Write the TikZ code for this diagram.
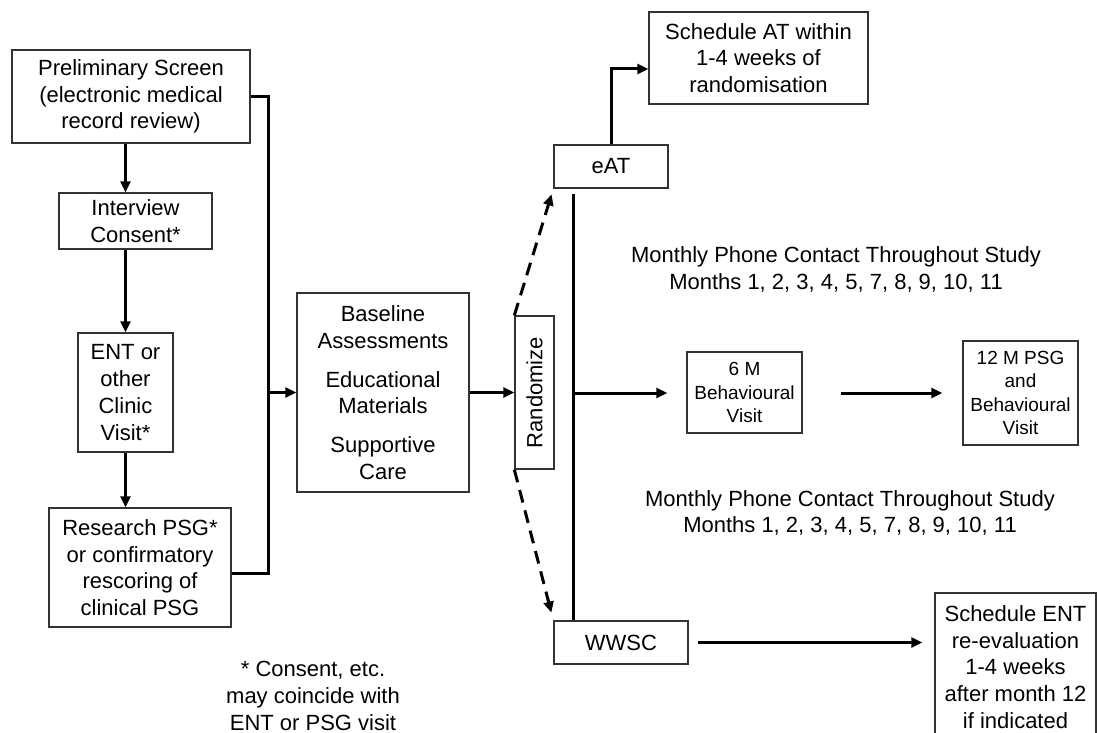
\documentclass[tikz,border=0pt]{standalone}
\usepackage{fontspec}
\usepackage{graphicx}
\setmainfont{Liberation Sans}
\usetikzlibrary{arrows.meta}
\definecolor{boxgray}{HTML}{333333}
\newcommand{\fmain}{\fontsize{22}{26.7}\selectfont}
\newcommand{\fsmall}{\fontsize{19}{23.3}\selectfont}
\begin{document}
\begin{tikzpicture}[x=1pt,y=-1pt,
  blk/.style={draw=boxgray, line width=1.3pt, inner sep=0pt, align=center, font=\fmain},
  conn/.style={line width=3pt},
  arr/.style={conn, -{Triangle[length=11pt,width=10pt]}},
  darr/.style={arr, dash pattern=on 13pt off 8pt},
  txt/.style={align=center, font=\fmain, inner sep=0pt}]
\fill[white] (0,0) rectangle (1097,733);
\useasboundingbox (0,0) rectangle (1097,733);
\clip (0,0) rectangle (1097,733);

% left column
\node[blk, minimum width=238pt, minimum height=93pt] (prelim) at (131,96.5)
  {Preliminary Screen\\(electronic medical\\record review)};
\node[blk, minimum width=153pt, minimum height=56pt] (interview) at (135.5,221)
  {Interview\\Consent*};
\node[blk, minimum width=95pt, minimum height=119pt] (ent) at (125.5,392.5)
  {ENT or\\other\\Clinic\\Visit*};
\node[blk, minimum width=182pt, minimum height=119pt] (research) at (140,567.5)
  {Research PSG*\\or confirmatory\\rescoring of\\clinical PSG};
\node[txt] (foot) at (313,696)
  {* Consent, etc.\\may coincide with\\ENT or PSG visit};

% middle
\node[blk, minimum width=172pt, minimum height=199pt] (baseline) at (383,392.5)
  {Baseline\\Assessments\\[12pt]Educational\\Materials\\[12pt]Supportive\\Care};
\node[blk, minimum width=39pt, minimum height=153pt] (random) at (534.5,392.5)
  {\rotatebox{90}{Randomize}};

% arms
\node[blk, minimum width=114pt, minimum height=43pt] (eat) at (611,166.5) {eAT};
\node[blk, minimum width=219pt, minimum height=92pt] (schedat) at (758.5,58)
  {Schedule AT within\\1-4 weeks of\\randomisation};
\node[blk, minimum width=134pt, minimum height=43pt] (wwsc) at (621,642.5) {WWSC};
\node[blk, minimum width=161pt, minimum height=148pt] (schedent) at (1015.5,667)
  {Schedule ENT\\re-evaluation\\1-4 weeks\\after month 12\\if indicated};
\node[blk, font=\fsmall, minimum width=115pt, minimum height=81pt] (six) at (744.5,392.5)
  {6 M\\Behavioural\\Visit};
\node[blk, font=\fsmall, minimum width=115pt, minimum height=104pt] (twelve) at (1020.5,393)
  {12 M PSG\\and\\Behavioural\\Visit};
\node[txt] (month1) at (836,269.5)
  {Monthly Phone Contact Throughout Study\\Months 1, 2, 3, 4, 5, 7, 8, 9, 10, 11};
\node[txt] (month2) at (850,513)
  {Monthly Phone Contact Throughout Study\\Months 1, 2, 3, 4, 5, 7, 8, 9, 10, 11};

% coordinates
\coordinate (bt) at (268,97);
\coordinate (bb) at (268,573);
\coordinate (bm) at (268,392.5);
\coordinate (tr) at (573,0);
\coordinate (tm) at (573,393);

% left connectors
\draw[arr] (prelim.south -| ent) -- (interview.north -| ent);
\draw[arr] (interview.south -| ent) -- (ent.north);
\draw[arr] (ent.south) -- (research.north -| ent);
\draw[conn] (prelim.east |- bt) -- (bt) -- (bb) -- (research.east |- bb);
\draw[arr] (bm) -- (baseline.west);
\draw[arr] (baseline.east) -- (random.west);

% randomisation
\draw[darr, shorten >=6pt] (random.north west) -- (eat.south west);
\draw[darr, shorten >=8pt] (random.south west) -- (wwsc.north west);
\draw[conn] ([yshift=-5pt]eat.south -| tr) -- (wwsc.north -| tr);
\draw[arr] (eat.north) |- ([yshift=-11pt]schedat.west);
\draw[arr, shorten >=19pt] (tm) -- (six.west |- tm);
\draw[arr, shorten <=38pt, shorten >=20pt] (six.east |- tm) -- (twelve.west |- tm);
\draw[arr, shorten <=9pt, shorten >=12pt] (wwsc.east) -- (schedent.west |- wwsc.east);
\end{tikzpicture}
\end{document}
